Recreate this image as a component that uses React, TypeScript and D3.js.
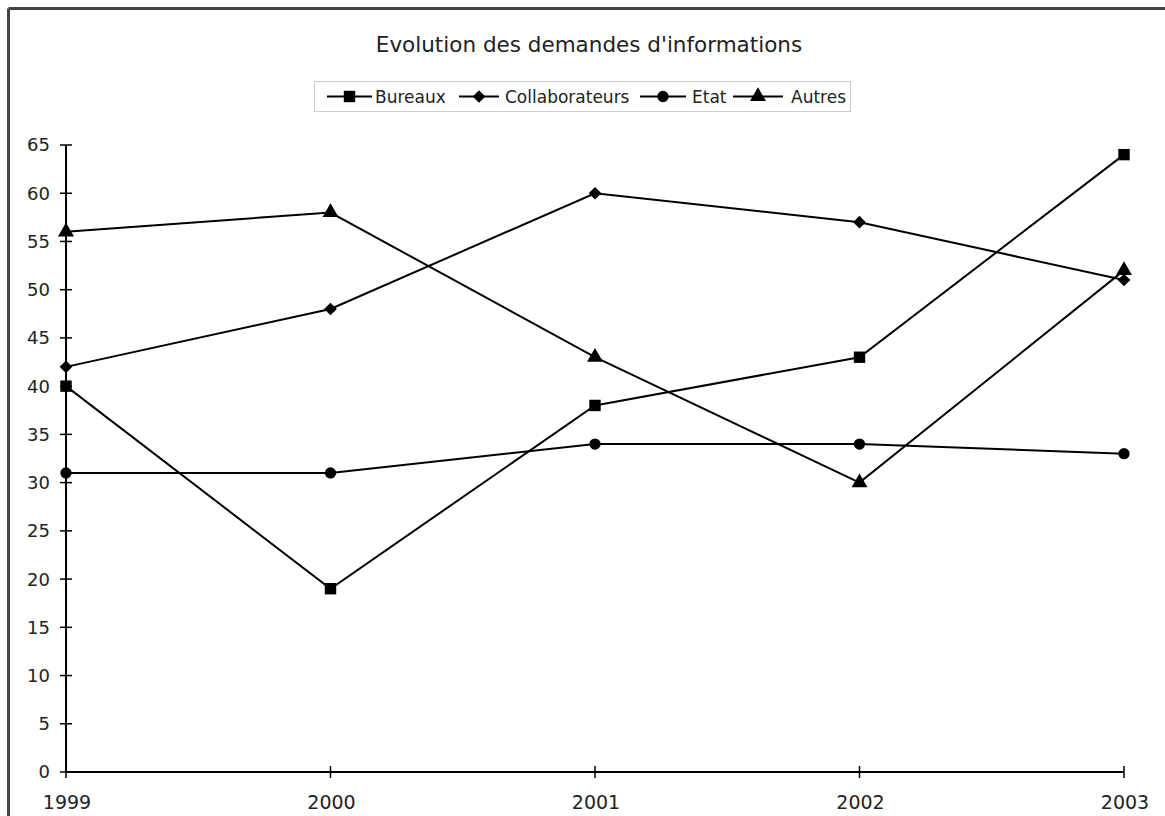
import React from "react";
import * as d3 from "d3";

const years = ["1999", "2000", "2001", "2002", "2003"];
const yTicks = [0, 5, 10, 15, 20, 25, 30, 35, 40, 45, 50, 55, 60, 65];
const seriesNames = ["Bureaux", "Collaborateurs", "Etat", "Autres"];
const bureaux = [40, 19, 38, 43, 64];
const collaborateurs = [42, 48, 60, 57, 51];
const etat = [31, 31, 34, 34, 33];
const autres = [56, 58, 43, 30, 52];
const title = "Evolution des demandes d'informations";

const seriesValues = [bureaux, collaborateurs, etat, autres];
const markerKinds = ["square", "diamond", "circle", "triangle"];

const FONT = "'DejaVu Sans', Verdana, sans-serif";
const TEXT = "#222";

function Marker({ kind, x, y }: { kind: string; x: number; y: number }) {
  let d = "";
  let rot = 0;
  if (kind === "square") d = d3.symbol(d3.symbolSquare, 130)()!;
  else if (kind === "diamond") {
    d = d3.symbol(d3.symbolSquare, 80)()!;
    rot = 45;
  } else if (kind === "circle") d = d3.symbol(d3.symbolCircle, 100)()!;
  else d = d3.symbol(d3.symbolTriangle, 110)()!;
  return (
    <path
      d={d}
      transform={`translate(${x},${y}) rotate(${rot})`}
      fill="#000"
    />
  );
}

export default function App() {
  const x = d3.scalePoint<string>().domain(years).range([66, 1124]);
  const y = d3.scaleLinear().domain([0, 65]).range([772, 145]);
  const line = d3
    .line<number>()
    .x((_, i) => x(years[i])!)
    .y((v) => y(v));

  const legendItems = [
    { lx: 327, lw: 45, tx: 375 },
    { lx: 459, lw: 40, tx: 505 },
    { lx: 640, lw: 46, tx: 692 },
    { lx: 733, lw: 50, tx: 791 },
  ];

  return (
    <svg
      width={1165}
      height={816}
      style={{ position: "absolute", left: 0, top: 0, background: "#fff" }}
      fontFamily={FONT}
    >
      <rect x={0} y={0} width={1165} height={816} fill="#fff" />
      {/* frame */}
      <line x1={8.5} y1={8.5} x2={1165} y2={8.5} stroke="#444" strokeWidth={3} />
      <line x1={8.5} y1={8.5} x2={8.5} y2={816} stroke="#444" strokeWidth={3} />

      {/* title */}
      <text x={589} y={52} textAnchor="middle" fontSize={21.5} fill={TEXT}>
        {title}
      </text>

      {/* legend */}
      <rect x={314.5} y={81.5} width={536} height={30} fill="#fff" stroke="#ccc" strokeWidth={1} />
      {seriesNames.map((name, i) => {
        const it = legendItems[i];
        return (
          <g key={name}>
            <line x1={it.lx} x2={it.lx + it.lw} y1={96.5} y2={96.5} stroke="#000" strokeWidth={2} />
            <Marker kind={markerKinds[i]} x={it.lx + it.lw / 2} y={96.5} />
            <text x={it.tx} y={102.5} fontSize={17} fill={TEXT}>
              {name}
            </text>
          </g>
        );
      })}

      {/* axes */}
      <line x1={66} x2={66} y1={y(65)} y2={y(0)} stroke="#000" strokeWidth={2} />
      <line x1={66} x2={1124} y1={y(0)} y2={y(0)} stroke="#000" strokeWidth={2} />
      {yTicks.map((t) => (
        <g key={t}>
          <line x1={60} x2={72} y1={y(t)} y2={y(t)} stroke="#000" strokeWidth={1.5} />
          <text x={50} y={y(t)} dy="0.36em" textAnchor="end" fontSize={18} fill={TEXT}>
            {t}
          </text>
        </g>
      ))}
      {years.map((yr) => (
        <g key={yr}>
          <line x1={x(yr)} x2={x(yr)} y1={766} y2={778} stroke="#000" strokeWidth={1.5} />
          <text x={x(yr)! + 1} y={809} textAnchor="middle" fontSize={19} fill={TEXT}>
            {yr}
          </text>
        </g>
      ))}

      {/* series */}
      {seriesValues.map((vals, si) => (
        <g key={si}>
          <path d={line(vals)!} fill="none" stroke="#000" strokeWidth={2} />
          {vals.map((v, i) => (
            <Marker key={i} kind={markerKinds[si]} x={x(years[i])!} y={y(v)} />
          ))}
        </g>
      ))}
    </svg>
  );
}
